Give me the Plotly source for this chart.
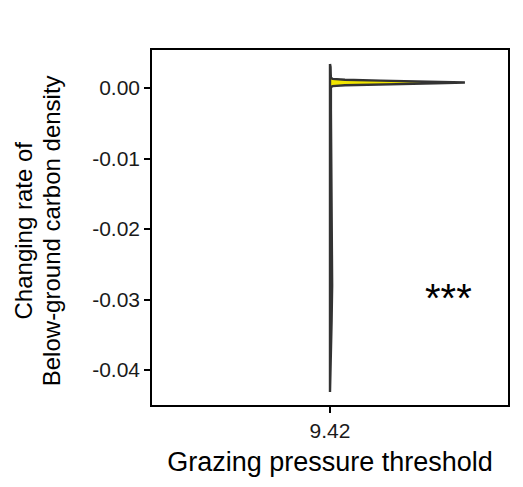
import plotly.graph_objects as go

# Category and half-violin density profile
category_label = "9.42"
category_pos = 0.0
density_y = [0.0034, 0.0030, 0.0020, 0.00143, 0.00130, 0.00117, 0.00104, 0.00091,
             0.00078, 0.00065, 0.00052, 0.00039, 0.00026, 0.00013, -0.0030, -0.0080,
             -0.0130, -0.0180, -0.0230, -0.0280, -0.0330, -0.0380, -0.0420, -0.0431]
density_w = [0.0, 0.003, 0.004, 0.005, 0.015, 0.084, 0.284, 0.593,
             0.758, 0.593, 0.284, 0.084, 0.015, 0.005, 0.005, 0.006,
             0.008, 0.011, 0.013, 0.012, 0.009, 0.005, 0.003, 0.0]

y_ticks = [0.0, -0.01, -0.02, -0.03, -0.04]
y_tick_text = ["0.00", "-0.01", "-0.02", "-0.03", "-0.04"]
y_title_lines = ["Changing rate of", "Below-ground carbon density"]
x_title = "Grazing pressure threshold"
signif_label = "***"
signif_pos = (0.663, -0.0298)

FONT = "Liberation Sans, Arial, sans-serif"

xs = [category_pos + w for w in density_w] + [category_pos for _ in density_y[::-1]]
ys = density_y + density_y[::-1]

fig = go.Figure()
fig.add_trace(go.Scatter(
    x=xs, y=ys, mode="lines", fill="toself",
    fillcolor="#F2E600",
    line=dict(color="#333333", width=2.4),
    hoverinfo="skip", showlegend=False,
))

fig.add_annotation(x=signif_pos[0], y=signif_pos[1], text=signif_label,
                   showarrow=False, font=dict(family=FONT, size=40, color="black"))

# y-axis title as two rotated lines (tight line spacing like the reference)
for xp, line in zip([-0.362, -0.284], y_title_lines):
    fig.add_annotation(xref="paper", yref="paper", x=xp, y=0.492, text=line,
                       textangle=-90, showarrow=False, xanchor="center", yanchor="middle",
                       font=dict(family=FONT, size=24, color="black"))

fig.update_layout(
    width=523, height=487,
    margin=dict(l=152, r=15, t=50, b=82),
    paper_bgcolor="white", plot_bgcolor="white",
    font=dict(family=FONT, color="black"),
    showlegend=False,
)
fig.update_xaxes(
    range=[-1, 1], tickvals=[category_pos], ticktext=[category_label],
    showgrid=False, zeroline=False,
    showline=True, mirror=True, linecolor="black", linewidth=1.5,
    ticks="outside", ticklen=6, tickwidth=1.5, tickcolor="black",
    tickfont=dict(family=FONT, size=21, color="#1a1a1a"),
    title=dict(text=x_title,
               font=dict(family=FONT, size=27, color="black"), standoff=11),
)
fig.update_yaxes(
    range=[-0.04496, 0.00539], tickvals=y_ticks, ticktext=y_tick_text,
    showgrid=False, zeroline=False,
    showline=True, mirror=True, linecolor="black", linewidth=1.5,
    ticks="outside", ticklen=6, tickwidth=1.5, tickcolor="black",
    tickfont=dict(family=FONT, size=21, color="#1a1a1a"),
)

fig.write_html("out.html")
